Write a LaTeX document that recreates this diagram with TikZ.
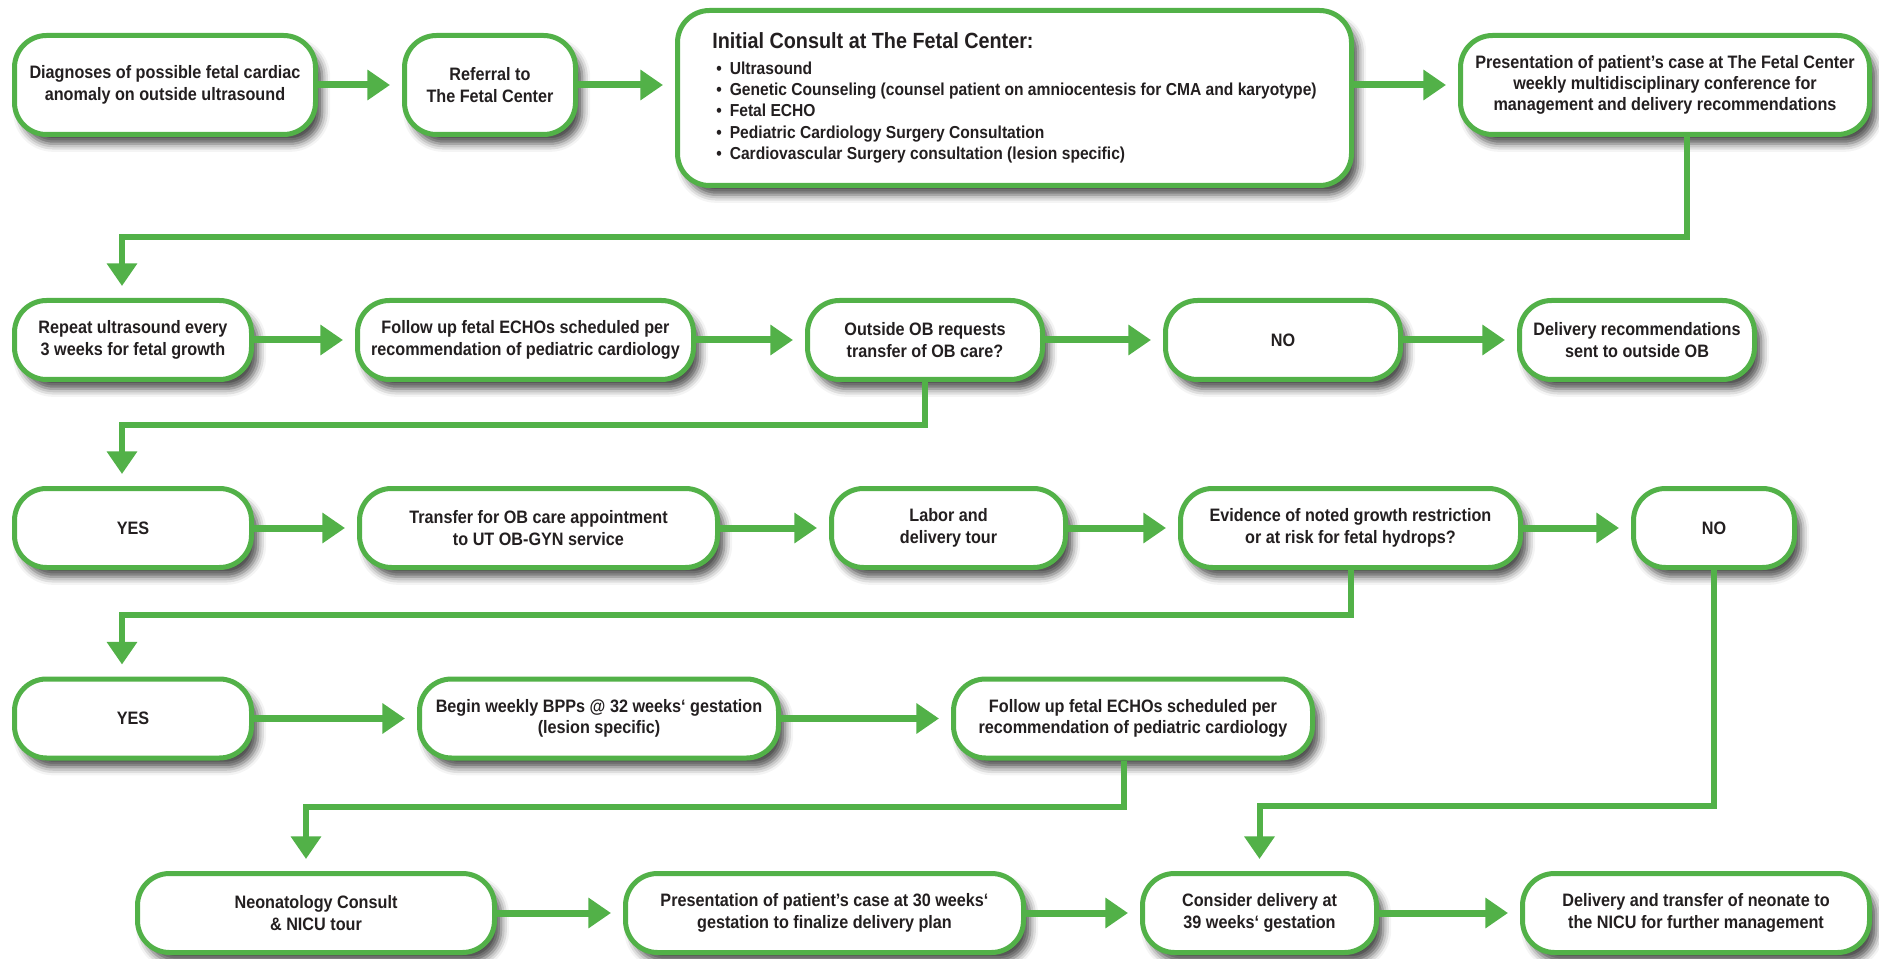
\documentclass[tikz,border=0pt]{standalone}
\usepackage{fontspec}
\setmainfont{Liberation Sans}[FakeStretch=0.9]
\usetikzlibrary{arrows.meta,calc,shadows.blur}
\definecolor{fcgreen}{RGB}{82,177,72}
\definecolor{fctext}{RGB}{35,31,32}

\tikzset{every picture/.style={line width=0.75pt}}
\tikzset{
  stepbox/.style={draw=fcgreen, line width=3.75pt, rounded corners=24pt, fill=white,
    text=fctext, align=center, inner sep=0pt, minimum height=59.25pt,
    font=\fontsize{13.5}{16}\selectfont\bfseries,
    blur shadow={shadow xshift=5pt, shadow yshift=-7pt, shadow blur radius=6pt, shadow opacity=70}},
  flow/.style={draw=fcgreen, line width=5.25pt, -{Triangle[length=17pt,width=22pt]}, shorten >=9pt},
  elbow/.style={flow, line width=4.5pt}
}

\begin{document}
\begin{tikzpicture}[x=0.75pt,y=0.75pt,yscale=-1,xscale=1]
\useasboundingbox (0,0) rectangle (1879,959);

%Rounded Rect: first row
\node[stepbox, minimum width=225.75pt, minimum height=74.25pt] (b1) at (165,85) {Diagnoses of possible fetal cardiac\\anomaly on outside ultrasound};
\node[stepbox, minimum width=128.25pt, minimum height=74.25pt] (b2) at (490,85) {Referral to\\The Fetal Center};
\node[stepbox, minimum width=505.5pt, minimum height=131.25pt, align=left, font=\fontsize{13}{16}\selectfont\bfseries] (b3) at (1014.5,98)
  {{\fontsize{16.5}{20}\selectfont Initial Consult at The Fetal Center:}\\[3pt]
   \hspace*{3pt}\textbullet\hspace{6pt}Ultrasound\\
   \hspace*{3pt}\textbullet\hspace{6pt}Genetic Counseling (counsel patient on amniocentesis for CMA and karyotype)\\
   \hspace*{3pt}\textbullet\hspace{6pt}Fetal ECHO\\
   \hspace*{3pt}\textbullet\hspace{6pt}Pediatric Cardiology Surgery Consultation\\
   \hspace*{3pt}\textbullet\hspace{6pt}Cardiovascular Surgery consultation (lesion specific)};
\node[stepbox, minimum width=306.75pt, minimum height=74.25pt] (b4) at (1665,85) {Presentation of patient’s case at The Fetal Center\\weekly multidisciplinary conference for\\management and delivery recommendations};

%Rounded Rect: second row
\node[stepbox, minimum width=177.75pt] (b5) at (133,340) {Repeat ultrasound every\\3 weeks for fetal growth};
\node[stepbox, minimum width=252pt] (b6) at (525.5,340) {Follow up fetal ECHOs scheduled per\\recommendation of pediatric cardiology};
\node[stepbox, minimum width=176.25pt] (b7) at (925,340) {Outside OB requests\\transfer of OB care?};
\node[stepbox, minimum width=176.25pt] (b8) at (1283,340) {NO};
\node[stepbox, minimum width=176.25pt] (b9) at (1637,340) {Delivery recommendations\\sent to outside OB};

%Rounded Rect: third row
\node[stepbox, minimum width=177.75pt] (b10) at (133,528) {YES};
\node[stepbox, minimum width=268.5pt] (b11) at (538.5,528) {Transfer for OB care appointment\\to UT OB-GYN service};
\node[stepbox, minimum width=175.5pt] (b12) at (948.5,528) {Labor and\\delivery tour};
\node[stepbox, minimum width=255pt] (b13) at (1350.5,528) {Evidence of noted growth restriction\\or at risk for fetal hydrops?};
\node[stepbox, minimum width=120.75pt] (b14) at (1714,528) {NO};

%Rounded Rect: fourth row
\node[stepbox, minimum width=177.75pt] (b15) at (133,718.5) {YES};
\node[stepbox, minimum width=269.25pt] (b16) at (599,718.5) {Begin weekly BPPs @ 32 weeks‘ gestation\\(lesion specific)};
\node[stepbox, minimum width=269.25pt] (b17) at (1133,718.5) {Follow up fetal ECHOs scheduled per\\recommendation of pediatric cardiology};

%Rounded Rect: fifth row
\node[stepbox, minimum width=267.75pt] (b18) at (316,913) {Neonatology Consult\\\& NICU tour};
\node[stepbox, minimum width=298.5pt] (b19) at (824.5,913) {Presentation of patient’s case at 30 weeks‘\\gestation to finalize delivery plan};
\node[stepbox, minimum width=175.5pt] (b20) at (1259.5,913) {Consider delivery at\\39 weeks‘ gestation};
\node[stepbox, minimum width=260.25pt] (b21) at (1696,913) {Delivery and transfer of neonate to\\the NICU for further management};

%Straight Lines: row arrows
\draw[flow] (b1) -- (b2);
\draw[flow] (b2.east) -- (b2.east -| b3.west);
\draw[flow] (b3.east |- b4.west) -- (b4.west);
\draw[flow] (b5) -- (b6);
\draw[flow] (b6) -- (b7);
\draw[flow] (b7) -- (b8);
\draw[flow] (b8) -- (b9);
\draw[flow] (b10) -- (b11);
\draw[flow] (b11) -- (b12);
\draw[flow] (b12) -- (b13);
\draw[flow] (b13) -- (b14);
\draw[flow] (b15) -- (b16);
\draw[flow] (b16) -- (b17);
\draw[flow] (b18) -- (b19);
\draw[flow] (b19) -- (b20);
\draw[flow] (b20) -- (b21);

%Straight Lines: elbows between rows
\draw[elbow] ($(b4.south)+(22,0)$) -- ++(0,100) -| ($(b5.north)+(-11,0)$);
\draw[elbow] (b7.south) -- ++(0,43) -| ($(b10.north)+(-11,0)$);
\draw[elbow] (b13.south) -- ++(0,45) -| ($(b15.north)+(-11,0)$);
\draw[elbow] (b14.south) -- ++(0,236) -| (b20.north);
\draw[elbow] ($(b17.south)+(-9,0)$) -- ++(0,46) -| ($(b18.north)+(-10,0)$);

\end{tikzpicture}
\end{document}
